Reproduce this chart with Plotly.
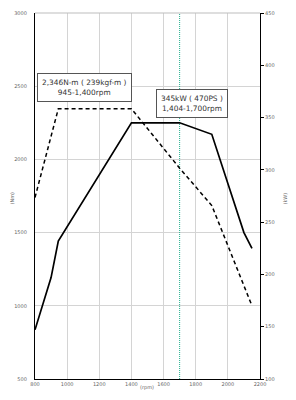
import plotly.graph_objects as go

rpm_torque = [800, 945, 1400, 1700, 1900, 2150]
torque_nm = [1740, 2346, 2346, 1940, 1685, 1000]

rpm_power = [800, 900, 945, 1400, 1700, 1900, 2100, 2150]
power_kw = [147, 197, 232, 345, 345, 334, 240, 225]

marker_rpm = 1700

torque_label = "2,346N-m ( 239kgf-m )<br>945-1,400rpm"
power_label = "345kW ( 470PS )<br>1,404-1,700rpm"

fig = go.Figure()
fig.add_trace(go.Scatter(x=[marker_rpm, marker_rpm], y=[500, 3000], mode="lines",
                         line=dict(color="#1fae8c", width=1, dash="1px,1px"), showlegend=False, hoverinfo="skip"))
fig.add_trace(go.Scatter(x=rpm_torque, y=torque_nm, mode="lines",
                         line=dict(color="black", width=1.5, dash="4px,3px"), showlegend=False))
fig.add_trace(go.Scatter(x=rpm_power, y=power_kw, mode="lines", yaxis="y2",
                         line=dict(color="black", width=1.7), showlegend=False))

tickfont = dict(family="DejaVu Sans", size=5, color="#666666")
fig.update_layout(
    width=296, height=400,
    margin=dict(l=35, r=36, t=10, b=21),
    paper_bgcolor="white", plot_bgcolor="white",
    xaxis=dict(range=[800, 2200], dtick=200, tick0=800, showgrid=True, gridcolor="#d4d4d4", gridwidth=1,
               showline=True, linecolor="black", linewidth=1.2, ticks="", tickfont=tickfont,
               zeroline=False, fixedrange=True),
    yaxis=dict(range=[500, 3000], dtick=500, tick0=500, showgrid=True, gridcolor="#d4d4d4", gridwidth=1,
               showline=True, linecolor="black", linewidth=1.2, ticks="", tickfont=tickfont,
               zeroline=False, ticklabelstandoff=6),
    yaxis2=dict(range=[100, 450], dtick=50, tick0=100, overlaying="y", side="right", showgrid=False,
                showline=True, linecolor="black", linewidth=1.2, ticks="outside", ticklen=3,
                tickcolor="black", tickfont=tickfont, zeroline=False),
    shapes=[dict(type="line", xref="paper", yref="paper", x0=0, x1=1, y0=1, y1=1,
                 line=dict(color="#bdbdbd", width=1))],
    annotations=[
        dict(text=torque_label, x=1110, y=2488, xref="x", yref="y", showarrow=False,
             font=dict(family="DejaVu Sans", size=7.4, color="#333333"),
             bordercolor="#555555", borderwidth=1, borderpad=4, bgcolor="white", align="center"),
        dict(text=power_label, x=1778, y=2383, xref="x", yref="y", showarrow=False,
             font=dict(family="DejaVu Sans", size=7.4, color="#333333"),
             bordercolor="#555555", borderwidth=1, borderpad=4, bgcolor="white", align="center"),
        dict(text="(Nm)", x=7, y=197, xref="paper", yref="paper", showarrow=False, textangle=-90,
             font=dict(family="DejaVu Sans", size=5, color="#666666")),
        dict(text="(kW)", x=290, y=197, xref="paper", yref="paper", showarrow=False, textangle=-90,
             font=dict(family="DejaVu Sans", size=5, color="#666666")),
        dict(text="(rpm)", x=147, y=393, xref="paper", yref="paper", showarrow=False,
             font=dict(family="DejaVu Sans", size=5, color="#666666")),
    ],
)

# convert pixel-based axis-title positions into paper coordinates
pw, ph = 296 - 35 - 36, 400 - 10 - 21
for a in fig.layout.annotations[2:]:
    a.x = (a.x - 35) / pw
    a.y = 1 - (a.y - 10) / ph

fig.write_html("out.html")
